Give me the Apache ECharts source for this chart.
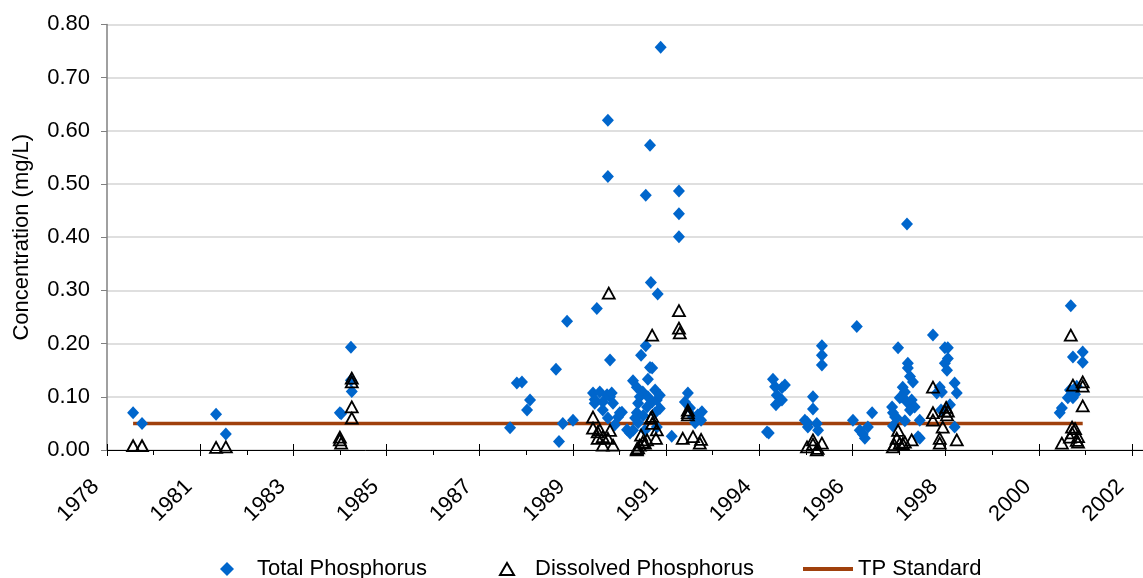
<!DOCTYPE html>
<html>
<head>
<meta charset="utf-8">
<script src="https://cdn.jsdelivr.net/npm/echarts@6/dist/echarts.min.js"></script>
<style>
  html, body { margin: 0; padding: 0; background: #fff; }
  #chart { width: 1143px; height: 578px; }
</style>
</head>
<body>
<div id="chart"></div>
<script>
// sample dates as decimal years, concentrations in mg/L
var tpPoints = [
  [1979.46,0.070],[1979.67,0.050],
  [1981.41,0.067],[1981.64,0.030],
  [1984.32,0.070],[1984.35,0.068],[1984.58,0.193],[1984.60,0.110],[1984.58,0.131],
  [1988.32,0.042],[1988.48,0.126],[1988.60,0.128],[1988.72,0.075],[1988.79,0.094],
  [1989.40,0.152],[1989.47,0.016],[1989.56,0.050],[1989.66,0.242],[1989.80,0.056],
  [1990.27,0.107],[1990.36,0.266],[1990.31,0.088],[1990.43,0.109],[1990.62,0.620],
  [1990.62,0.514],[1990.67,0.169],[1990.67,0.100],[1990.50,0.075],[1990.74,0.088],
  [1990.86,0.062],[1990.95,0.071],[1990.62,0.060],[1990.78,0.047],[1990.60,0.104],
  [1990.71,0.107],[1990.50,0.090],[1990.31,0.095],[1990.90,0.070],[1991.07,0.038],
  [1991.14,0.032],[1991.21,0.037],[1991.21,0.130],[1991.30,0.118],[1991.44,0.109],
  [1991.73,0.113],[1991.77,0.094],[1991.33,0.088],[1991.54,0.081],[1991.30,0.070],
  [1991.73,0.070],[1991.33,0.051],[1991.77,0.043],[1991.49,0.037],[1991.40,0.178],
  [1991.51,0.196],[1991.56,0.133],[1991.61,0.155],[1991.51,0.479],[1991.61,0.573],
  [1991.63,0.315],[1991.79,0.293],[1991.86,0.757],[1991.84,0.103],[1991.84,0.078],
  [1991.66,0.154],[1991.37,0.100],[1991.26,0.060],[1991.56,0.100],[1991.66,0.090],
  [1991.45,0.065],
  [1992.12,0.026],[1992.29,0.487],[1992.29,0.444],[1992.29,0.401],[1992.50,0.107],
  [1992.43,0.090],[1992.55,0.079],[1992.62,0.062],[1992.73,0.066],[1992.81,0.056],
  [1992.67,0.051],[1992.83,0.072],
  [1994.36,0.034],[1994.40,0.032],[1994.50,0.133],[1994.55,0.119],[1994.71,0.117],
  [1994.59,0.103],[1994.71,0.094],[1994.57,0.085],[1994.78,0.122],
  [1995.25,0.056],[1995.32,0.043],[1995.44,0.100],[1995.44,0.077],[1995.53,0.050],
  [1995.56,0.037],[1995.65,0.196],[1995.65,0.178],[1995.65,0.160],[1995.30,0.052],
  [1996.38,0.056],[1996.47,0.232],[1996.54,0.037],[1996.66,0.022],[1996.73,0.043],
  [1996.83,0.070],[1996.61,0.030],
  [1997.44,0.192],[1997.65,0.425],[1997.67,0.163],[1997.67,0.154],[1997.72,0.138],
  [1997.79,0.128],[1997.55,0.118],[1997.60,0.109],[1997.53,0.100],[1997.30,0.081],
  [1997.32,0.070],[1997.37,0.062],[1997.76,0.094],[1997.83,0.081],[1997.95,0.056],
  [1997.95,0.022],[1997.48,0.098],[1997.65,0.090],[1997.72,0.075],[1997.41,0.060],
  [1997.91,0.025],[1997.32,0.045],[1997.60,0.055],
  [1998.26,0.216],[1998.54,0.192],[1998.61,0.192],[1998.54,0.163],[1998.61,0.172],
  [1998.59,0.150],[1998.77,0.126],[1998.82,0.107],[1998.42,0.118],[1998.47,0.109],
  [1998.35,0.107],[1998.66,0.085],[1998.77,0.043],[1998.45,0.075],
  [2001.50,0.271],[2001.55,0.175],[2001.78,0.184],[2001.78,0.165],[2001.48,0.113],
  [2001.64,0.120],[2001.55,0.098],[2001.43,0.098],[2001.29,0.079],[2001.24,0.070],
  [2001.60,0.105]
];
var dpPoints = [
  [1979.46,0.008],[1979.67,0.008],
  [1981.41,0.005],[1981.64,0.006],
  [1984.32,0.019],[1984.35,0.013],[1984.32,0.024],[1984.60,0.135],[1984.60,0.128],
  [1984.60,0.081],[1984.60,0.060],
  [1990.27,0.062],[1990.27,0.041],[1990.38,0.034],[1990.43,0.038],[1990.38,0.022],
  [1990.50,0.009],[1990.67,0.037],[1990.62,0.022],[1990.74,0.009],[1990.64,0.295],
  [1990.50,0.025],
  [1991.30,0.002],[1991.33,0.004],[1991.37,0.009],[1991.44,0.015],[1991.54,0.019],
  [1991.66,0.063],[1991.66,0.050],[1991.63,0.060],[1991.77,0.038],[1991.75,0.022],
  [1991.66,0.216],[1991.40,0.028],[1991.49,0.013],[1991.30,0.000],
  [1992.29,0.262],[1992.29,0.229],[1992.31,0.220],[1992.50,0.075],[1992.50,0.066],
  [1992.50,0.070],[1992.38,0.022],[1992.62,0.025],[1992.78,0.013],[1992.81,0.020],
  [1995.30,0.006],[1995.44,0.019],[1995.53,0.000],[1995.65,0.013],[1995.44,0.011],
  [1995.55,0.003],
  [1997.44,0.037],[1997.41,0.022],[1997.32,0.006],[1997.48,0.013],[1997.60,0.015],
  [1997.76,0.019],[1997.35,0.010],[1997.55,0.012],
  [1998.26,0.118],[1998.26,0.070],[1998.26,0.056],[1998.42,0.022],[1998.42,0.013],
  [1998.49,0.043],[1998.54,0.073],[1998.59,0.066],[1998.61,0.073],[1998.57,0.080],
  [1998.82,0.019],
  [2001.29,0.013],[2001.53,0.043],[2001.53,0.032],[2001.67,0.015],[2001.67,0.025],
  [2001.50,0.216],[2001.55,0.122],[2001.78,0.128],[2001.78,0.120],[2001.78,0.083],
  [2001.60,0.040],[2001.64,0.018],[2001.48,0.024]
];
var tpStandard = [[1979.46,0.05],[2001.78,0.05]];

// x axis runs in excel-style day serials (1 Jan 1979 = 28856)
var axisMin = 28800;
var axisStep = 800;
var axisMax = 37694;
var yMin = 0, yMax = 0.8, yStep = 0.1;

function toSerial(yr){
  return 28856 + (yr - 1979) * 365.25;
}
function toXY(list){
  var out = [];
  for(var i=0;i<list.length;i++){
    out.push([toSerial(list[i][0]), list[i][1]]);
  }
  return out;
}
function yearOf(v){
  return new Date(Date.UTC(1899,11,30) + v*86400000).getUTCFullYear();
}

var font = '"Liberation Sans", Arial, sans-serif';
var fs = 22;
var lineColor = '#a0400c';
var myChart = echarts.init(document.getElementById('chart'));
var option = {
  animation: false,
  textStyle: { fontFamily: font },
  grid: { left: 107, right: 0, top: 24.4, bottom: 128, outerBoundsMode: 'none' },
  legend: [
    {
      data: ['Total Phosphorus'], left: 215, top: 553,
      itemWidth: 14, itemHeight: 14,
      textStyle: { fontSize: fs, color: '#000', fontFamily: font, padding: [0,0,0,18] }
    },
    {
      data: ['Dissolved Phosphorus'], left: 494, top: 553,
      itemWidth: 14, itemHeight: 12,
      textStyle: { fontSize: fs, color: '#000', fontFamily: font, padding: [0,0,0,16] }
    },
    {
      data: [{ name: 'TP Standard', icon: 'rect', itemStyle: { color: lineColor } }],
      left: 798, top: 553,
      itemWidth: 50, itemHeight: 4,
      textStyle: { fontSize: fs, color: '#000', fontFamily: font }
    }
  ],
  xAxis: [
    {
      type: 'value', min: axisMin, max: axisMax, interval: axisStep,
      axisLine: { show: true, onZero: false, lineStyle: { color: '#000', width: 1 } },
      axisTick: { show: true, length: 6, lineStyle: { color: '#000' } },
      minorTick: { show: true, splitNumber: 2, length: 5, lineStyle: { color: '#000' } },
      splitLine: { show: false },
      axisLabel: {
        rotate: 45, margin: 22, fontSize: fs, color: '#000', fontFamily: font,
        padding: [0, 16, 0, 0],
        showMaxLabel: false,
        formatter: function(v){ return yearOf(v) + ''; }
      }
    },
    {
      // inner half of the major ticks
      type: 'value', min: axisMin, max: axisMax, interval: axisStep, position: 'bottom',
      axisLine: { show: false },
      axisTick: { show: true, inside: true, length: 6, lineStyle: { color: '#000' } },
      axisLabel: { show: false },
      splitLine: { show: false }
    }
  ],
  yAxis: {
    type: 'value', min: yMin, max: yMax, interval: yStep,
    name: 'Concentration (mg/L)', nameLocation: 'middle', nameGap: 74, nameRotate: 90,
    nameTextStyle: { fontSize: 22, color: '#000', fontFamily: font },
    axisLine: { show: true, lineStyle: { color: '#808080', width: 1.5 } },
    axisTick: { show: true, length: 6, lineStyle: { color: '#808080' } },
    splitLine: { show: true, lineStyle: { color: '#d4d4d4', width: 1.5 } },
    axisLabel: {
      margin: 17, fontSize: fs, color: '#000', fontFamily: font,
      formatter: function(v){ return v.toFixed(2); }
    }
  },
  series: [
    {
      name: 'TP Standard', type: 'line', data: toXY(tpStandard), z: 1,
      showSymbol: false, symbol: 'none', color: lineColor,
      lineStyle: { color: lineColor, width: 3.5 }
    },
    {
      name: 'Total Phosphorus', type: 'scatter', data: toXY(tpPoints), z: 2,
      symbol: 'diamond', symbolSize: [12, 13],
      itemStyle: { color: '#0066cc', opacity: 1 }
    },
    {
      name: 'Dissolved Phosphorus', type: 'scatter', data: toXY(dpPoints), z: 3,
      symbol: 'triangle', symbolSize: [12, 11],
      itemStyle: { color: 'rgba(255,255,255,0)', borderColor: '#000', borderWidth: 1.8, opacity: 1 }
    }
  ]
};
myChart.setOption(option);
</script>
</body>
</html>
